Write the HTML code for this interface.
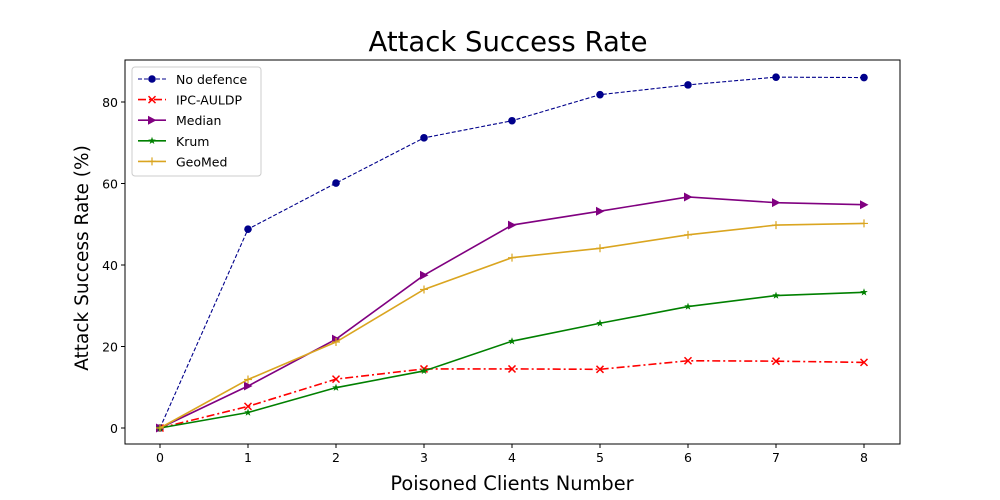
<!DOCTYPE html>
<html><head><meta charset="utf-8"><style>
body{margin:0;background:#fff;}
svg{display:block;font-family:"DejaVu Sans","Liberation Sans",sans-serif;}
</style></head><body>
<svg id="chart" width="1000" height="500"></svg>
<script>
const categories=[0,1,2,3,4,5,6,7,8];
const noDefence=[0,48.8,60.1,71.2,75.4,81.8,84.2,86.1,86.0];
const ipcAuldp=[0,5.3,12.0,14.5,14.5,14.4,16.5,16.4,16.1];
const median=[0,10.3,21.8,37.5,49.8,53.2,56.7,55.3,54.8];
const krum=[0,3.8,9.9,14.0,21.3,25.7,29.8,32.5,33.3];
const geoMed=[0,11.9,21.1,34.0,41.8,44.1,47.4,49.8,50.2];
const yTicks=[0,20,40,60,80];
const seriesNames=["No defence","IPC-AULDP","Median","Krum","GeoMed"];

const NS="http://www.w3.org/2000/svg";
const svg=document.getElementById('chart');
const L=125,R=900,T=60,B=444;
const xs=v=>160+v*88;
const ys=v=>428-v*4.075;
function mk(tag,attrs,parent){const e=document.createElementNS(NS,tag);for(const k in attrs)e.setAttribute(k,attrs[k]);(parent||svg).appendChild(e);return e;}

let t=mk('text',{x:508,y:51,'font-size':27.5,'text-anchor':'middle',fill:'#000'});t.textContent="Attack Success Rate";


let ax=mk('rect',{x:L,y:T,width:R-L,height:B-T,fill:'none',stroke:'#000','stroke-width':1});


categories.forEach(c=>{
  mk('line',{x1:xs(c),x2:xs(c),y1:B,y2:B+4,stroke:'#000'});
  const tx=mk('text',{x:xs(c),y:B+18,'font-size':12.5,'text-anchor':'middle'});tx.textContent=c;
  
  
});
yTicks.forEach(v=>{
  mk('line',{x1:L-4,x2:L,y1:ys(v),y2:ys(v),stroke:'#000'});
  const tx=mk('text',{x:L-7,y:ys(v)+5,'font-size':12.5,'text-anchor':'end'});tx.textContent=v;
  
  
});
t=mk('text',{x:512,y:490,'font-size':19.4,'text-anchor':'middle'});t.textContent="Poisoned Clients Number";


t=mk('text',{x:0,y:0,'font-size':18.5,'text-anchor':'middle',transform:'translate(88,258) rotate(-90)'});t.textContent="Attack Success Rate (%)";



function marker(g,type,x,y,c){
  if(type==='o')mk('circle',{cx:x,cy:y,r:3.8,fill:c},g);
  else if(type==='x'){mk('path',{d:`M${x-3.5},${y-3.5}L${x+3.5},${y+3.5}M${x-3.5},${y+3.5}L${x+3.5},${y-3.5}`,stroke:c,'stroke-width':1.5},g);}
  else if(type==='>')mk('polygon',{points:`${x-4},${y-4.5} ${x+4.5},${y} ${x-4},${y+4.5}`,fill:c},g);
  else if(type==='*'){let p=[];for(let i=0;i<10;i++){const r=i%2?1.6:4,a=-Math.PI/2+i*Math.PI/5;p.push((x+r*Math.cos(a))+','+(y+r*Math.sin(a)));}mk('polygon',{points:p.join(' '),fill:c},g);}
  else if(type==='+'){mk('path',{d:`M${x-4},${y}L${x+4},${y}M${x},${y-4}L${x},${y+4}`,stroke:c,'stroke-width':1.2},g);}
}
const series=[
 {d:noDefence,c:'#00008b',m:'o',dash:'4,2',w:1.1},
 {d:ipcAuldp,c:'#ff0000',m:'x',dash:'8,3,2,3',w:1.6},
 {d:median,c:'#800080',m:'>',dash:'',w:1.6},
 {d:krum,c:'#008000',m:'*',dash:'',w:1.6},
 {d:geoMed,c:'#daa520',m:'+',dash:'',w:1.6}];
series.forEach((s,i)=>{
  const g=mk('g',{});
  
  
  mk('polyline',{points:s.d.map((v,j)=>xs(categories[j])+','+ys(v)).join(' '),fill:'none',stroke:s.c,'stroke-width':s.w,'stroke-dasharray':s.dash},g);
  s.d.forEach((v,j)=>marker(g,s.m,xs(categories[j]),ys(v),s.c));
});
const lg=mk('g',{});


mk('rect',{x:132,y:67,width:129,height:109,rx:3,fill:'#fff',stroke:'#ccc'},lg);
series.forEach((s,i)=>{
  const y=79+i*20.6;
  const e=mk('g',{},lg);
  
  
  mk('line',{x1:138,x2:166,y1:y,y2:y,stroke:s.c,'stroke-width':s.w,'stroke-dasharray':s.dash},e);
  marker(e,s.m,152,y,s.c);
  const tx=mk('text',{x:176,y:y+5,'font-size':12.5},e);tx.textContent=seriesNames[i];
});
</script>
</body></html>
